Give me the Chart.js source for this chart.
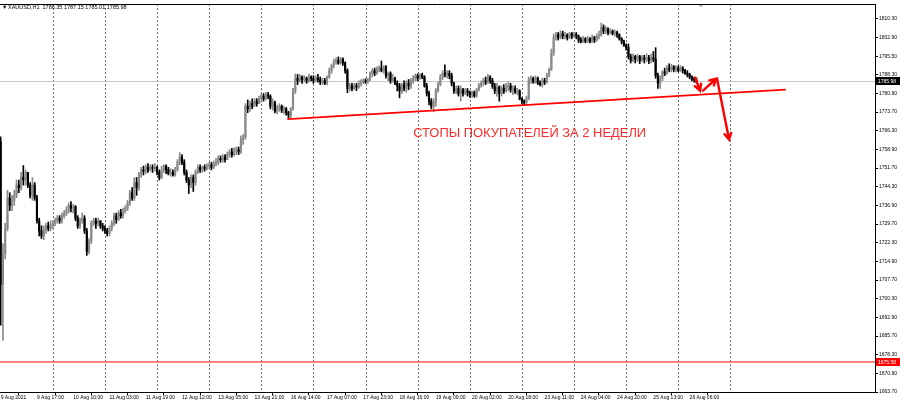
<!DOCTYPE html>
<html><head><meta charset="utf-8">
<script src="https://cdn.jsdelivr.net/npm/chart.js@4/dist/chart.umd.min.js"></script>
<style>html,body{margin:0;padding:0;background:#fff;}canvas{display:block;}</style>
</head><body>
<canvas id="c" width="900" height="404"></canvas>
<script>
// ---- DATA ----
const symbolName = 'XAUUSD,H1';
const firstOpen = 1762;
const closes = [
1706,1718,1728,1740,1737,1739,1741,1745,1744,1748,1747,1750,1745,1741,1745,1740,
1731,1727,1725,1728,1729,1728,1729.5,
1730,1731,1732,1731,1733,1734,1735,1737,1736,1736.5,1732,1729,1731,1732,1727,1719,1723,1730,1731,1730,1731,1729,1728,
1727,1726,1728,1730,1733,1731.5,1734,1733,1735,1736,1738,1742,1740,1746,1744,1749,1751,1750.5,1752,1751,1752,1751.5,1752,
1750,1748,1751,1752.5,1751,1749.5,1750,1749,1751,1754,1756,1754,1750,1747,1745,1748,1746,1750,1752,1751,1752,1751.5,1752.5,
1753,1752,1753.5,1754,1755.5,1755,1756,1755,1757,1758,1757,1758.5,1759,1758,1763,1764,1776,1775,1777,1776,1778,1777,1779,
1780,1779,1780.5,1780,1776,1777.5,1774,1775,1776,1774.5,1775,1773.5,1772.5,1775,1782,1787,1786,1787.5,1786.5,1787,1786,1787.5,1787,
1786,1787,1786.5,1785.5,1786,1785,1787.5,1790,1792,1793.5,1794,1793,1794.5,1793,1790,1783,1784,1783,1784,1783.5,1785,1785.5,
1786,1785.5,1786.5,1789,1790,1789,1790.5,1791,1790,1791.5,1788,1789,1786,1787,1785,1784,1782,1784.5,1783,1785,1784,1786,1787,
1788,1787,1788.3,1787.5,1784,1781,1778,1776,1777.5,1782,1784.5,1787.5,1789,1788.5,1789,1788,1785,1782,1783,1781,1782.5,1781,1782,
1781.5,1780.5,1781.5,1780,1782.5,1784,1785,1786,1785.5,1787.5,1786,1784,1782,1783.5,1781,1783,1782,1783.5,1784,1782.5,1783,1781.5,1782,
1779,1778,1777.5,1779,1786.5,1787,1785.5,1787,1785,1784.5,1786,1785.5,1788,1790.5,1797,1803,1804,1803,1804.5,1803.5,1804,1803,1804.5,
1803.5,1804.3,1803.5,1802,1801.5,1802.5,1801.5,1802.5,1801.5,1803,1802,1803.5,1804,1807,1805.5,1806.5,1805,1805.5,1804.5,1805,1804,1802.5,1801.5,
1800,1799,1795.5,1794,1795.5,1794.5,1795.5,1794,1795,1794.5,1795,1794,1795,1794.5,1788,1785,1787,1789.5,1789,1791,1790.5,1791.5,1790.5,1791,
1790,1791,1790,1789,1788.5,1787.5,1786.5,1786.35,1785.98
];
const highs = [
1764,1722,1730,1743,1742,1741,1743,1747,1747,1750,1752.7,1751,1750,1746,1748,1746,
1741,1732,1729,1729,1730,1730.5,1731,
1731,1732,1733,1733,1734,1735,1736.5,1738,1738.5,1737.5,1737,1733,1732,1734,1733,1728,1724,1731,1732,1732,1732,1731,1730,
1729,1728,1729,1731,1734,1734,1735,1735.5,1736,1737,1739,1743,1744,1748,1748,1750,1752,1752.5,1753,1753.5,1753,1753,1753.5,
1752.5,1751,1752.5,1753,1753,1752,1751.5,1751,1752,1755,1757.8,1757,1755,1751,1748,1749,1749,1751,1753,1753,1752.5,1753,1753.5,
1754,1754,1754.5,1755.5,1756.5,1756.5,1757,1757,1758,1759,1759.5,1759.7,1760,1760,1764.4,1765,1777,1778.5,1778,1778.9,1779,1779,1780,
1781,1781,1781.5,1781.5,1780.5,1778.9,1778,1776.5,1777,1776.5,1776,1775.5,1774,1775.5,1783,1788.7,1788.5,1788.5,1788,1788,1787.5,1788.5,1788,
1788,1788,1788.5,1787.5,1787,1787,1788,1791,1792.6,1794.5,1795,1795.4,1795.2,1795,1793.5,1790.7,1785,1785,1785,1785,1786,1786.5,
1786.8,1786.8,1787,1789.5,1790.7,1791,1791.5,1791.9,1793.8,1792,1792,1789.5,1789.5,1788.5,1787.5,1786,1785,1785,1786,1786,1786.5,1787,1788,
1788.7,1788.7,1788.7,1789,1788,1785,1782,1779,1779,1783,1785.5,1788.5,1790,1792.3,1790,1790,1789,1785.5,1784,1784,1784,1783,1783,
1783,1782,1782,1782,1783,1785,1786,1787,1787.5,1788.5,1788,1787,1785,1785,1784,1784,1784.5,1785,1785.5,1785,1784,1784,1783,
1782.5,1779.3,1778.5,1780,1787.5,1788,1787.5,1788,1787.5,1786,1787,1787,1789,1791,1798.5,1804.4,1805,1805,1805.6,1805.5,1805,1804.5,1805,
1805,1805,1805,1804,1803,1803.5,1803,1803.5,1803,1804,1803.5,1804.5,1805.5,1808.7,1808,1807.5,1806.8,1806.5,1806,1806,1805.5,1804.5,1803,
1802,1800.5,1800.5,1796.5,1796.6,1796,1796.5,1796,1796,1796,1796.6,1796,1796.5,1797.5,1799,1789,1788,1790,1791,1792,1792.7,1792.5,1792,1792,
1791.9,1792,1791.5,1790.5,1790,1789,1788,1787.5,1787.15
];
const lows = [
1690,1684,1716,1727,1735,1735,1737,1740,1742,1743,1745,1745,1744,1740,1739,1739,
1730,1725,1724,1723.5,1726,1727,1727,
1728,1729,1730,1730,1730,1732,1733,1734,1734.5,1734,1731,1728,1728,1730,1726,1717.4,1718,1722,1729,1728,1729,1728,1727,
1726,1725,1725,1727,1729,1730,1731,1732,1732,1734,1735,1737,1739,1739,1741,1743,1748,1749,1749.5,1750,1750.5,1750,1750.5,
1749,1747,1747.5,1750,1749.5,1749,1748.5,1748.5,1748.5,1750.5,1753,1753,1749,1746,1741.7,1744,1742.5,1745,1749.5,1750,1750,1750.5,1751,
1751.5,1751,1751.5,1752.5,1753,1754,1754,1754,1755,1756,1756,1756.5,1757,1757,1757.5,1761,1763,1773.5,1774,1775,1776,1776,1777,
1777.5,1778,1778.5,1779,1775,1774.5,1773.4,1773,1774,1773.5,1773,1772.5,1771.3,1771.5,1774.5,1781,1784.5,1785.5,1785,1785.5,1785,1785.5,1786,
1785,1785.5,1785.5,1784.5,1784.5,1784.5,1784.5,1787,1789,1791,1792.5,1792.5,1792.5,1792,1789,1781.3,1782,1782,1782.5,1782.1,1783,1784,
1784.8,1785,1785,1786,1787.5,1788,1788.5,1789.5,1789.5,1789,1787,1786,1785,1785.5,1784.5,1782,1779.3,1781,1782,1781.5,1782.5,1783,1785,
1786,1786,1786.5,1786.8,1783.5,1780,1776.5,1775,1773.8,1776,1781.5,1784,1786.5,1787.5,1787,1786.8,1784,1781,1780.9,1780,1778,1780,1780.5,
1780,1779.5,1779.5,1779.5,1779.5,1782,1783.5,1784,1784.5,1785,1785,1783,1781,1780,1778,1780,1781,1781.5,1782,1781.5,1780.5,1781,1780.5,
1778.5,1777,1776.5,1776.8,1778.5,1785,1785,1785,1784.5,1784,1783.5,1784.5,1785,1787.5,1790,1796,1802,1802,1802.5,1802.5,1802.5,1802,1802.5,
1802.5,1803,1802.5,1801,1800.9,1801,1800.9,1801,1800.9,1801,1801,1801.5,1802.5,1803.5,1804.5,1804.5,1804,1804.4,1804,1803.5,1803,1802,1800.5,
1799.5,1798,1794.6,1793,1793.5,1793,1793.5,1792.7,1793.5,1793,1793.5,1792.7,1793,1793.5,1787,1783,1783,1786,1788,1788.5,1789.5,1789.5,1789.5,1789.5,
1789.5,1789.5,1789,1788.5,1787.5,1786.8,1786,1785.5,1785.01
];
const timeLabels = ['9 Aug 2021','9 Aug 17:00','10 Aug 10:00','11 Aug 03:00','11 Aug 19:00','12 Aug 12:00','13 Aug 05:00','13 Aug 21:00','16 Aug 14:00','17 Aug 07:00','17 Aug 23:00','18 Aug 16:00','19 Aug 09:00','20 Aug 02:00','20 Aug 18:00','23 Aug 11:00','24 Aug 04:00','24 Aug 20:00','25 Aug 13:00','26 Aug 06:00'];
const labelBarIdx = [0,16,32,48,64,80,96,112,128,144,160,176,192,208,224,240,256,272,288,304];
const dayStartIdx = [23,46,69,92,115,138,161,184,207,230,253,276,299,322];
const priceTicks = [1810.30,1802.90,1795.50,1788.30,1780.90,1773.70,1766.30,1758.90,1751.70,1744.30,1736.90,1729.70,1722.30,1714.90,1707.70,1700.30,1692.90,1685.70,1678.30,1670.90,1663.70];
const stopLevel = 1675.58;
const trendLine = [[126.8,1770.9],[346.1,1782.5]];
const arrows = [[[306.5,1787.2],[308.6,1782.1]],[[309.9,1782.1],[315.7,1786.8]],[[316.1,1786.8],[321.4,1762.9]]];
const noteText = 'СТОПЫ ПОКУПАТЕЛЕЙ ЗА 2 НЕДЕЛИ';
const notePos = [182, 1764];

// ---- build ----
const opens = closes.map((c,i)=> i===0 ? firstOpen : closes[i-1]);
const BULL = '#8a8a8a', BEAR = '#000000';
const colors = closes.map((c,i)=> c>=opens[i] ? BULL : BEAR);
const wickData = closes.map((c,i)=>({x:i, y:[Math.min(lows[i],opens[i],c), Math.max(highs[i],opens[i],c)]}));
const bodyData = closes.map((c,i)=>({x:i, y:[opens[i], c]}));
const last = closes.length-1;
const lastPrice = closes[last];

const overlay = {
  id:'overlay',
  beforeDatasetsDraw(chart){
    const {ctx, chartArea:a, scales:{x,y}} = chart;
    ctx.save();
    ctx.beginPath(); ctx.rect(a.left,a.top,a.right-a.left,a.bottom-a.top); ctx.clip();
    ctx.strokeStyle='#6e6e6e'; ctx.lineWidth=1; ctx.setLineDash([2,2]);
    dayStartIdx.forEach(d=>{ const px=Math.round(x.getPixelForValue(d))+0.5; ctx.beginPath(); ctx.moveTo(px,a.top); ctx.lineTo(px,a.bottom); ctx.stroke(); });
    ctx.setLineDash([]);
    const py = Math.round(y.getPixelForValue(lastPrice))+0.5;
    ctx.strokeStyle='#c8c8c8'; ctx.beginPath(); ctx.moveTo(a.left,py); ctx.lineTo(a.right,py); ctx.stroke();
    const sy = Math.round(y.getPixelForValue(stopLevel));
    ctx.strokeStyle='#ff5a5a'; ctx.lineWidth=1.6; ctx.beginPath(); ctx.moveTo(a.left,sy); ctx.lineTo(a.right,sy); ctx.stroke();
    ctx.restore();
  },
  afterDatasetsDraw(chart){
    const {ctx, chartArea:a, scales:{x,y}} = chart;
    ctx.save();
    ctx.strokeStyle='#ff0000'; ctx.lineWidth=1.8; ctx.lineCap='round';
    ctx.beginPath();
    ctx.moveTo(x.getPixelForValue(trendLine[0][0]), y.getPixelForValue(trendLine[0][1]));
    ctx.lineTo(x.getPixelForValue(trendLine[1][0]), y.getPixelForValue(trendLine[1][1]));
    ctx.stroke();
    ctx.lineWidth=2.4;
    arrows.forEach(([p0,p1])=>{
      const x0=x.getPixelForValue(p0[0]), y0=y.getPixelForValue(p0[1]);
      const x1=x.getPixelForValue(p1[0]), y1=y.getPixelForValue(p1[1]);
      const ang=Math.atan2(y1-y0,x1-x0), L=7, w=0.5;
      ctx.beginPath(); ctx.moveTo(x0,y0); ctx.lineTo(x1,y1);
      ctx.moveTo(x1-L*Math.cos(ang-w), y1-L*Math.sin(ang-w)); ctx.lineTo(x1,y1);
      ctx.lineTo(x1-L*Math.cos(ang+w), y1-L*Math.sin(ang+w));
      ctx.stroke();
    });
    ctx.fillStyle='#ff2a2a'; ctx.font='13px "Liberation Sans", Arial, sans-serif'; ctx.textBaseline='alphabetic';
    ctx.fillText(noteText, x.getPixelForValue(notePos[0]), y.getPixelForValue(notePos[1]), 233);
    ctx.restore();
  },
  afterDraw(chart){
    const {ctx, chartArea:a, scales:{x,y}} = chart;
    ctx.save();
    ctx.strokeStyle='#000'; ctx.lineWidth=1;
    ctx.beginPath(); ctx.moveTo(0,a.top+0.5); ctx.lineTo(a.right,a.top+0.5); ctx.stroke();
    ctx.fillStyle='#000'; ctx.font='5.5px "Liberation Sans", Arial, sans-serif'; ctx.textBaseline='middle';
    ctx.fillText('▼', 2, 7);
    ctx.fillText(symbolName+'  '+opens[last].toFixed(2)+' '+highs[last].toFixed(2)+' '+lows[last].toFixed(2)+' '+lastPrice.toFixed(2), 8, 7);
    const tag=(val,bg)=>{ const py=Math.round(y.getPixelForValue(val)); ctx.fillStyle=bg; ctx.fillRect(a.right+1,py-4,24,8);
      ctx.fillStyle='#fff'; ctx.font='5px "Liberation Sans", Arial, sans-serif'; ctx.textBaseline='middle'; ctx.fillText(val.toFixed(2), a.right+3, py+0.5); };
    tag(lastPrice,'#000');
    tag(stopLevel,'#ff0000');
    const mx = x.getPixelForValue(last);
    ctx.fillStyle='#a0a0a0'; ctx.beginPath(); ctx.moveTo(mx+2,a.top+1); ctx.lineTo(mx+7,a.top+1); ctx.lineTo(mx+4.5,a.top+3); ctx.closePath(); ctx.fill();
    ctx.restore();
  }
};

new Chart(document.getElementById('c'), {
  type:'bar',
  data:{datasets:[
    {label:'wick', data:wickData, backgroundColor:colors, barThickness:1, grouped:false, order:2},
    {label:'body', data:bodyData, backgroundColor:colors, barThickness:1.5, grouped:false, minBarLength:1, order:1}
  ]},
  options:{
    responsive:false, animation:false, devicePixelRatio:1,
    layout:{padding:{top:3,left:0,right:0,bottom:0}},
    plugins:{legend:{display:false}, tooltip:{enabled:false}},
    scales:{
      x:{type:'linear', min:-0.3, max:385.8, offset:false,
         afterFit(s){ s.height=12; },
         afterBuildTicks(s){ s.ticks = labelBarIdx.map(v=>({value:v})); },
         grid:{display:true, drawOnChartArea:false, drawTicks:true, tickLength:3, color:'#000'},
         border:{display:true, color:'#000'},
         ticks:{autoSkip:false, maxRotation:0, align:'start', padding:0, color:'#000',
                font:{size:5, family:'"Liberation Sans", Arial, sans-serif'},
                callback(v){ const k=labelBarIdx.indexOf(v); return k>=0 ? timeLabels[k] : ''; }}
      },
      y:{position:'right', min:1663.7, max:1816.18,
         afterFit(s){ s.width=25; },
         afterBuildTicks(s){ s.ticks = priceTicks.map(v=>({value:v})); },
         grid:{display:true, drawOnChartArea:false, drawTicks:true, tickLength:3, color:'#000'},
         border:{display:true, color:'#000'},
         ticks:{padding:1, color:'#000', font:{size:5, family:'"Liberation Sans", Arial, sans-serif'},
                callback(v){ return Number(v).toFixed(2); }}
      }
    }
  },
  plugins:[overlay]
});
</script>
</body></html>
